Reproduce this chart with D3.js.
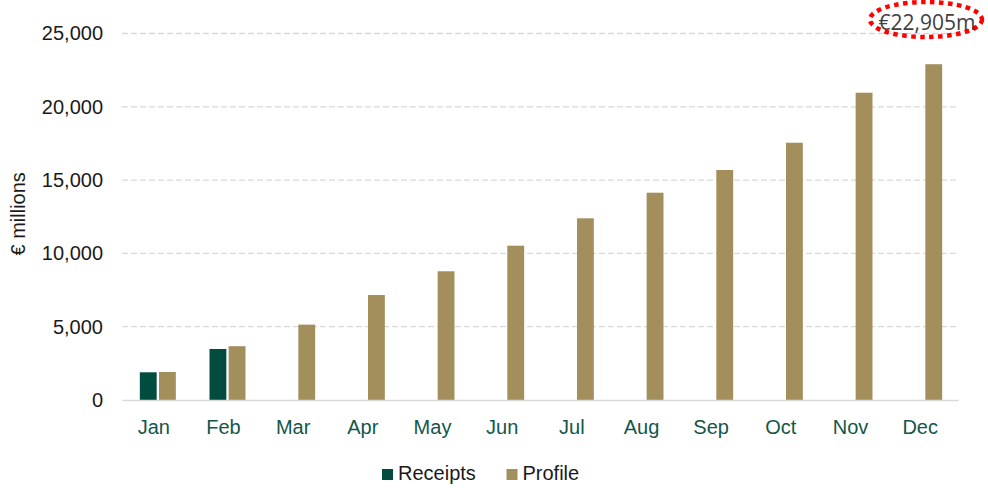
<!DOCTYPE html>
<html>
<head>
<meta charset="utf-8">
<script src="https://cdn.jsdelivr.net/npm/d3@7"></script>
<style>
  body { margin: 0; background: #fff; }
  svg { font-family: "Liberation Sans", Arial, sans-serif; }
</style>
</head>
<body>
<div id="chart"></div>
<script>
const width = 988
const height = 488
const margin = { top: 33.5, right: 30, bottom: 88, left: 122 }

const months = ['Jan', 'Feb', 'Mar', 'Apr', 'May', 'Jun', 'Jul', 'Aug', 'Sep', 'Oct', 'Nov', 'Dec']
const series = ['Receipts', 'Profile']
const receipts = [1890, 3480, null, null, null, null, null, null, null, null, null, null]
const profile = [1910, 3670, 5140, 7160, 8780, 10525, 12395, 14140, 15690, 17550, 20960, 22905]
const yTicks = [0, 5000, 10000, 15000, 20000, 25000]
const annotation = '€22,905m'

const colors = { Receipts: '#004d40', Profile: '#a38f5c' }

const svg = d3.select('#chart')
  .append('svg')
  .attr('width', width)
  .attr('height', height)

const x = d3.scaleBand()
  .domain(months)
  .range([margin.left, width - margin.right])

const xSub = d3.scaleBand()
  .domain(series)
  .range([x.bandwidth() / 2 - 17, x.bandwidth() / 2 + 19])
  .paddingInner(0.12)

const y = d3.scaleLinear()
  .domain([0, 25000])
  .range([height - margin.bottom, margin.top])

// gridlines
svg.append('g')
  .selectAll('line')
  .data(yTicks.filter(d => d > 0))
  .enter()
  .append('line')
  .attr('x1', margin.left)
  .attr('x2', width - margin.right)
  .attr('y1', d => y(d))
  .attr('y2', d => y(d))
  .style('stroke', '#d9d9d9')
  .style('stroke-width', 1.3)
  .style('stroke-dasharray', '6,3')

// y axis
const yAxis = svg.append('g')
  .attr('transform', `translate(${margin.left},0)`)
  .call(d3.axisLeft(y).tickValues(yTicks).tickSize(0).tickPadding(19).tickFormat(d3.format(',')))
yAxis.select('.domain').remove()
yAxis.selectAll('text')
  .style('font-size', '20px')
  .style('fill', '#1a1a1a')
  .style('font-family', '"Liberation Sans", Arial, sans-serif')

svg.append('text')
  .attr('transform', `translate(25,${y(12700)}) rotate(-90)`)
  .attr('text-anchor', 'middle')
  .style('font-size', '20px')
  .style('fill', '#1a1a1a')
  .text('€ millions')

// bars
const rows = months.map((m, i) => ({ month: m, Receipts: receipts[i], Profile: profile[i] }))

svg.append('g')
  .selectAll('g')
  .data(rows)
  .enter()
  .append('g')
  .attr('transform', d => `translate(${x(d.month)},0)`)
  .selectAll('rect')
  .data(d => series.filter(s => d[s] != null).map(s => ({ key: s, value: d[s] })))
  .enter()
  .append('rect')
  .attr('x', d => xSub(d.key))
  .attr('y', d => y(d.value))
  .attr('width', xSub.bandwidth())
  .attr('height', d => y(0) - y(d.value))
  .attr('fill', d => colors[d.key])

// x axis
const xAxis = svg.append('g')
  .attr('transform', `translate(0,${y(0)})`)
  .call(d3.axisBottom(x).tickSize(0).tickPadding(19.5))
xAxis.select('.domain')
  .style('stroke', '#d9d9d9')
  .style('stroke-width', 1.5)
xAxis.selectAll('text')
  .attr('dx', -3)
  .style('font-size', '20px')
  .style('fill', '#12574a')
  .style('font-family', '"Liberation Sans", Arial, sans-serif')

// annotation
svg.append('ellipse')
  .attr('cx', 926)
  .attr('cy', 19.5)
  .attr('rx', 56)
  .attr('ry', 17.5)
  .style('fill', 'none')
  .style('stroke', '#ff0000')
  .style('stroke-width', 4.5)
  .style('stroke-dasharray', '4.5,4.5')

svg.append('text')
  .attr('x', 927)
  .attr('y', 30)
  .attr('text-anchor', 'middle')
  .style('font-family', '"Open Sans", "Noto Sans", sans-serif')
  .style('font-size', '21px')
  .style('fill', '#404040')
  .text(annotation)

// legend
const legend = svg.append('g')
  .attr('transform', `translate(382,480)`)
const legendX = [0, 124.5]
series.forEach((s, i) => {
  const g = legend.append('g').attr('transform', `translate(${legendX[i]},0)`)
  g.append('rect')
    .attr('x', 0)
    .attr('y', -11)
    .attr('width', 11)
    .attr('height', 11)
    .attr('fill', colors[s])
  g.append('text')
    .attr('x', 16)
    .attr('y', 0)
    .style('font-size', '20px')
    .style('fill', '#1a1a1a')
    .text(s)
})
</script>
</body>
</html>
